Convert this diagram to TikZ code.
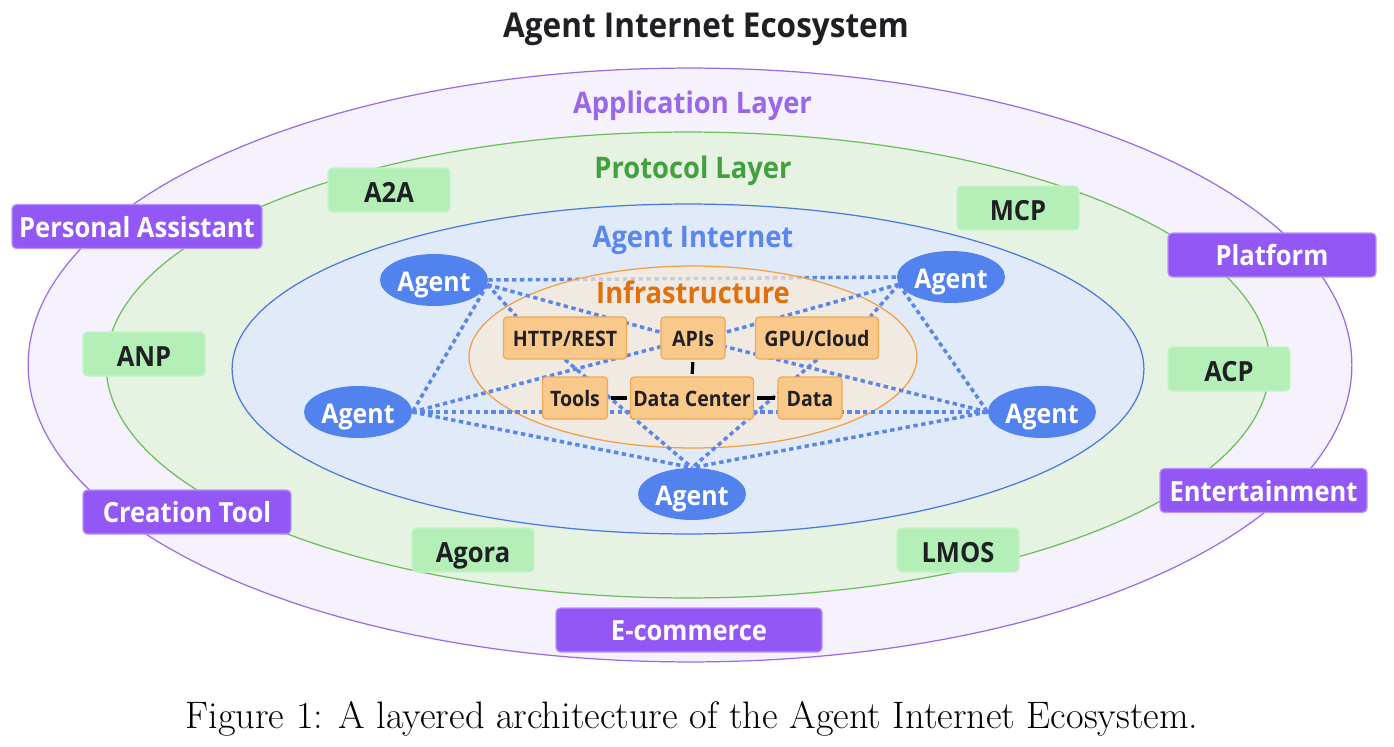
\documentclass[tikz,border=0pt]{standalone}
\usepackage{fontspec}
\usetikzlibrary{shapes.geometric,calc}
\newfontfamily\osans{Open Sans}[FakeStretch=0.92]
\definecolor{appfill}{HTML}{F5F1FD}
\definecolor{appdraw}{HTML}{9B6BE6}
\definecolor{protofill}{HTML}{E6F3E3}
\definecolor{protodraw}{HTML}{6DBE5A}
\definecolor{aifill}{HTML}{E0EAF8}
\definecolor{aidraw}{HTML}{4B77E0}
\definecolor{infrafill}{HTML}{F7EBDA}
\definecolor{infradraw}{HTML}{F0A040}
\definecolor{purplebox}{HTML}{9257F5}
\definecolor{purpleedge}{HTML}{B994FA}
\definecolor{greenbox}{HTML}{B3EFB7}
\definecolor{greenedge}{HTML}{C6F3C9}
\definecolor{agentfill}{HTML}{5282EE}
\definecolor{infrabox}{HTML}{F9C98C}
\definecolor{infraedge}{HTML}{EDA954}
\definecolor{dotcol}{HTML}{5B85E6}
\definecolor{textdark}{HTML}{1F1F24}
\definecolor{applabel}{HTML}{9A66EA}
\definecolor{protolabel}{HTML}{43A03F}
\definecolor{ailabel}{HTML}{5B85F0}
\definecolor{infralabel}{HTML}{E0700E}
\pgfdeclarelayer{back}
\pgfdeclarelayer{e0}
\pgfdeclarelayer{inf}
\pgfdeclarelayer{edg}
\pgfsetlayers{back,e0,inf,edg,main}
\begin{document}
\begin{tikzpicture}[x=0.02cm,y=-0.02cm,
  pbox/.style={rectangle, rounded corners=2.5pt, fill=purplebox, draw=purpleedge, line width=0.7pt,
    text=white, font=\osans\bfseries\fontsize{15.8}{18}\selectfont, inner sep=0pt,
    text height=12.4pt, text depth=0pt, minimum height=44*0.02cm},
  gbox/.style={rectangle, rounded corners=2.5pt, fill=greenbox, draw=greenedge, line width=0.7pt,
    text=textdark, font=\osans\bfseries\fontsize{15.8}{18}\selectfont, inner sep=0pt,
    text height=14pt, text depth=0pt, minimum height=44*0.02cm, minimum width=122*0.02cm},
  agent/.style={ellipse, fill=agentfill, draw=none, text=white,
    font=\osans\bfseries\fontsize{15.4}{17}\selectfont, inner sep=0pt,
    text height=13pt, text depth=0pt, minimum width=108*0.02cm, minimum height=52*0.02cm},
  ibox/.style={rectangle, rounded corners=2pt, fill=infrabox, draw=infraedge, line width=0.7pt,
    text=textdark, font=\osans\bfseries\fontsize{12.1}{14}\selectfont, inner sep=0pt,
    text height=9.7pt, text depth=0pt, minimum height=42*0.02cm},
  layerlabel/.style={font=\osans\bfseries\fontsize{16.9}{19}\selectfont, anchor=base, inner sep=0pt},
  dotlink/.style={draw=dotcol, line width=2pt, dash pattern=on 2.5pt off 2pt},
  solidlink/.style={draw=black, line width=1.8pt, shorten >=1.4pt, shorten <=1.4pt}
]
\useasboundingbox (0,0) rectangle (1394,747);

\begin{pgfonlayer}{back}
\fill[white] (0,0) rectangle (1394,747);
\filldraw[fill=appfill, draw=appdraw, line width=0.7pt] (690,365) ellipse [x radius=13.24cm, y radius=5.94cm];
\filldraw[fill=protofill, draw=protodraw, line width=0.7pt] (688,365) ellipse [x radius=11.64cm, y radius=4.66cm];
\filldraw[fill=aifill, draw=aidraw, line width=0.7pt] (688,369) ellipse [x radius=9.12cm, y radius=3.30cm];
\end{pgfonlayer}
\begin{pgfonlayer}{inf}
\filldraw[fill=infrafill, fill opacity=0.7, draw=infradraw, line width=0.7pt] (693,357) ellipse [x radius=4.48cm, y radius=1.82cm];
\end{pgfonlayer}

% title and labels
\node[font=\osans\bfseries\fontsize{19.5}{22}\selectfont, text=textdark, anchor=base, inner sep=0pt] (title) at (706,37) {Agent Internet Ecosystem};
\node[layerlabel, text=applabel] (applbl) at (692.5,113) {Application Layer};
\node[layerlabel, text=protolabel] (protolbl) at (693,178) {Protocol Layer};
\node[layerlabel, text=ailabel] (ailbl) at (693,247) {Agent Internet};
\node[layerlabel, text=infralabel] (infralbl) at (693,303) {Infrastructure};

% application boxes
\node[pbox, minimum width=250*0.02cm] (pa) at (137,226.5) {Personal Assistant};
\node[pbox, minimum width=208*0.02cm] (plat) at (1272,255) {Platform};
\node[pbox, minimum width=208*0.02cm] (ct) at (187,512) {Creation Tool};
\node[pbox, minimum width=207*0.02cm] (ent) at (1263.5,490.5) {Entertainment};
\node[pbox, minimum width=266*0.02cm] (ec) at (689,630) {E-commerce};

% protocol boxes
\node[gbox] (a2a) at (389,190) {A2A};
\node[gbox] (mcp) at (1018,208) {MCP};
\node[gbox] (anp) at (144,354) {ANP};
\node[gbox] (acp) at (1229,369) {ACP};
\node[gbox] (agora) at (473,550) {Agora};
\node[gbox] (lmos) at (958,550) {LMOS};

% agents
\node[agent] (A1) at (434,280) {Agent};
\node[agent] (A2) at (951,277) {Agent};
\node[agent] (A3) at (358,412) {Agent};
\node[agent] (A4) at (1042,412) {Agent};
\node[agent] (A5) at (692,494) {Agent};

% infrastructure boxes
\node[ibox, minimum width=123*0.02cm] (http) at (565,338) {HTTP/REST};
\node[ibox, minimum width=64*0.02cm] (apis) at (693,338) {APIs};
\node[ibox, minimum width=123*0.02cm] (gpu) at (817,338) {GPU/Cloud};
\node[ibox, minimum width=65*0.02cm] (tools) at (575,398) {Tools};
\node[ibox, minimum width=123*0.02cm] (dc) at (692,398) {Data Center};
\node[ibox, minimum width=64*0.02cm] (data) at (810,398) {Data};

% dotted connectors
\begin{pgfonlayer}{e0}
\draw[dotlink] (A1.east) -- (A2.west);
\end{pgfonlayer}
\begin{pgfonlayer}{edg}
\draw[dotlink] (A1.-5) -- (A3.east);
\draw[dotlink] (A1.-5) -- (http.156);
\draw[dotlink] (A1.-5) -- (apis.170);
\draw[dotlink] (A2.188) -- (apis.10);
\draw[dotlink] (A2.188) -- (gpu.22);
\draw[dotlink] (A2.188) -- (A4.west);
\draw[dotlink] (A3.east) -- (apis.195);
\draw[dotlink] (A3.east) -- (A4.west);
\draw[dotlink] (A3.east) -- (A5.north);
\draw[dotlink] (A4.west) -- (apis.-15);
\draw[dotlink] (A4.west) -- (A5.north);
\draw[dotlink] (http.south) -- (A5.north);
\draw[dotlink] (gpu.south) -- (A5.north);
\end{pgfonlayer}

% solid connectors
\draw[solidlink] (apis.south) -- (dc.north);
\draw[solidlink] (tools.east) -- (dc.west);
\draw[solidlink] (dc.east) -- (data.west);

% caption
\node[font=\fontsize{21.8}{26}\selectfont, anchor=base, inner sep=0pt] (cap) at (692,728) {Figure 1: A layered architecture of the Agent Internet Ecosystem.};
\end{tikzpicture}
\end{document}
